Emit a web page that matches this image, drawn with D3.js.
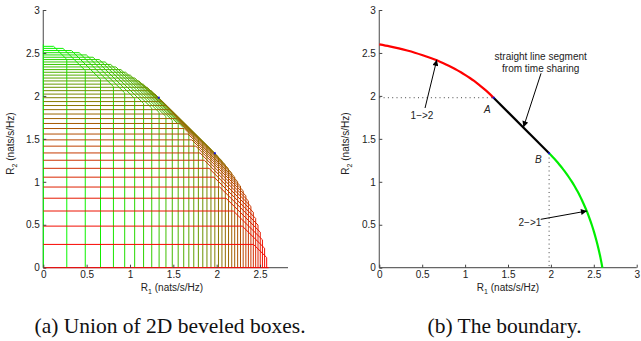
<!DOCTYPE html>
<html>
<head>
<meta charset="utf-8">
<script src="https://cdn.jsdelivr.net/npm/d3@7/dist/d3.min.js"></script>
<style>
  body { margin: 0; background: #fff; }
  svg { display: block; }
  .tick text { font-family: "Liberation Sans", Arial, sans-serif; font-size: 10px; fill: #222; }
  .lbl { font-family: "Liberation Sans", Arial, sans-serif; font-size: 10px; fill: #222; }
  .cap { font-family: "Liberation Serif", "Times New Roman", serif; font-size: 21.5px; fill: #111; }
</style>
</head>
<body>
<div id="chart"></div>
<script>
// ticks
const ticksLeftX = [0, 0.5, 1, 1.5, 2, 2.5];
const ticksY = [0, 0.5, 1, 1.5, 2, 2.5, 3];
const ticksRightX = [0, 0.5, 1, 1.5, 2, 2.5, 3];

// beveled boxes: R1 limit, R2 limit, sum-rate limit (green -> red)
const boxR1 = [0, 0.271, 0.484, 0.660, 0.809, 0.939, 1.054, 1.157, 1.251, 1.336, 1.415,
  1.488, 1.556, 1.620, 1.679, 1.736, 1.789, 1.840, 1.888, 1.934, 1.979,
  2.021, 2.061, 2.100, 2.137, 2.174, 2.208, 2.242, 2.275, 2.306, 2.337,
  2.366, 2.395, 2.423, 2.450, 2.477, 2.503, 2.528, 2.553, 2.577, 2.600];
const boxR2 = [2.600, 2.577, 2.553, 2.528, 2.503, 2.477, 2.450, 2.423, 2.395, 2.366, 2.337,
  2.306, 2.275, 2.242, 2.208, 2.174, 2.137, 2.100, 2.061, 2.021, 1.979,
  1.934, 1.888, 1.840, 1.789, 1.736, 1.679, 1.620, 1.556, 1.488, 1.415,
  1.336, 1.251, 1.157, 1.054, 0.939, 0.809, 0.660, 0.484, 0.271, 0];
const boxSum = [2.600, 2.696, 2.780, 2.853, 2.917, 2.974, 3.024, 3.069, 3.109, 3.144, 3.175,
  3.202, 3.226, 3.246, 3.264, 3.278, 3.290, 3.299, 3.306, 3.310, 3.311,
  3.310, 3.306, 3.299, 3.290, 3.278, 3.264, 3.246, 3.226, 3.202, 3.175,
  3.144, 3.109, 3.069, 3.024, 2.974, 2.917, 2.853, 2.780, 2.696, 2.600];

// boundary pieces
const redR1 = [0, 0.120, 0.227, 0.325, 0.414, 0.497, 0.574, 0.646, 0.713, 0.777, 0.838,
  0.896, 0.951, 1.004, 1.056, 1.105, 1.153, 1.199, 1.245, 1.289, 1.332];
const redR2 = [2.600, 2.577, 2.553, 2.528, 2.503, 2.477, 2.450, 2.423, 2.395, 2.366, 2.337,
  2.306, 2.275, 2.242, 2.208, 2.174, 2.137, 2.100, 2.061, 2.021, 1.979];
const greenR1 = [1.979, 2.021, 2.061, 2.100, 2.137, 2.174, 2.208, 2.242, 2.275, 2.306, 2.337,
  2.366, 2.395, 2.423, 2.450, 2.477, 2.503, 2.528, 2.553, 2.577, 2.600];
const greenR2 = [1.332, 1.289, 1.245, 1.199, 1.153, 1.105, 1.056, 1.004, 0.951, 0.896, 0.838,
  0.777, 0.713, 0.646, 0.574, 0.497, 0.414, 0.325, 0.227, 0.120, 0];
const cornerA = [1.332, 1.979];
const cornerB = [1.979, 1.332];

const W = 641, H = 341;
const svg = d3.select("#chart").append("svg").attr("width", W).attr("height", H);

svg.append("defs").append("marker")
  .attr("id", "arr").attr("viewBox", "0 0 10 10").attr("refX", 10).attr("refY", 5)
  .attr("markerWidth", 9).attr("markerHeight", 6).attr("markerUnits", "userSpaceOnUse")
  .attr("orient", "auto")
  .append("path").attr("d", "M0,0L10,5L0,10z").attr("fill", "#000");

const yL = d3.scaleLinear().domain([0, 3]).range([267.7, 10]);
const xL = d3.scaleLinear().domain([0, 2.823]).range([43.3, 288]);
const xR = d3.scaleLinear().domain([0, 3]).range([379.3, 636.7]);
const yR = yL;

function drawAxes(g, x, y) {
  g.append("line").attr("x1", x.range()[0]).attr("x2", x.range()[1])
    .attr("y1", y(0)).attr("y2", y(0)).attr("stroke", "#666").attr("stroke-width", 1.2);
  g.append("line").attr("x1", x(0)).attr("x2", x(0))
    .attr("y1", y.range()[0]).attr("y2", y.range()[1]).attr("stroke", "#666").attr("stroke-width", 1.2);
}
function drawTicks(g, x, y, xt) {
  const ax = g.append("g").attr("transform", `translate(0,${y(0)})`)
    .call(d3.axisBottom(x).tickValues(xt).tickFormat(d3.format("")).tickSizeInner(-3).tickSizeOuter(0).tickPadding(3.5));
  ax.select(".domain").remove();
  const ay = g.append("g").attr("transform", `translate(${x(0)},0)`)
    .call(d3.axisLeft(y).tickValues(ticksY).tickFormat(d3.format("")).tickSizeInner(-3).tickSizeOuter(0).tickPadding(3.5));
  ay.select(".domain").remove();
  g.selectAll(".tick line").attr("stroke", "#444");
}
function axisLabels(g, cx, cy, ylx) {
  const t = g.append("text").attr("class", "lbl").attr("x", cx).attr("y", 291).attr("text-anchor", "middle");
  t.append("tspan").text("R");
  t.append("tspan").attr("font-size", "7px").attr("dy", 3).text("1");
  t.append("tspan").attr("dy", -3).text(" (nats/s/Hz)");
  const u = g.append("text").attr("class", "lbl")
    .attr("transform", `translate(${ylx},${cy}) rotate(-90)`).attr("text-anchor", "middle");
  u.append("tspan").text("R");
  u.append("tspan").attr("font-size", "7px").attr("dy", 3).text("2");
  u.append("tspan").attr("dy", -3).text(" (nats/s/Hz)");
}

// ---------- (a) union of beveled boxes ----------
const gL = svg.append("g");
drawAxes(gL, xL, yL);
const n = boxR1.length;
const boxLine = d3.line().x(d => xL(d[0])).y(d => yL(d[1]));
boxR1.forEach((a, k) => {
  const b = boxR2[k], s = boxSum[k];
  const t = k / (n - 1);
  const pts = [[0, b], [s - b, b], [a, s - a], [a, 0]];
  gL.append("path").attr("d", boxLine(pts)).attr("fill", "none")
    .attr("stroke", d3.rgb(255 * t, 255 * (1 - t), 0)).attr("stroke-width", 1);
});
[cornerA, cornerB].forEach(p => {
  gL.append("rect").attr("x", xL(p[0]) - 1).attr("y", yL(p[1]) - 1).attr("width", 2).attr("height", 2).attr("fill", "#1010e0");
});
drawTicks(gL, xL, yL, ticksLeftX);
axisLabels(gL, 172, 143.5, 14);

// ---------- (b) the boundary ----------
const gR = svg.append("g");
drawAxes(gR, xR, yR);
// dotted guides
gR.append("line").attr("x1", xR(0)).attr("x2", xR(cornerA[0])).attr("y1", yR(cornerA[1])).attr("y2", yR(cornerA[1]))
  .attr("stroke", "#444").attr("stroke-dasharray", "1,3.3");
gR.append("line").attr("x1", xR(cornerB[0])).attr("x2", xR(cornerB[0])).attr("y1", yR(cornerB[1])).attr("y2", yR(0))
  .attr("stroke", "#444").attr("stroke-dasharray", "1,3.3");

const curve = d3.line().x(d => xR(d[0])).y(d => yR(d[1])).curve(d3.curveCatmullRom);
gR.append("path").attr("d", curve(redR1.map((v, i) => [v, redR2[i]])))
  .attr("fill", "none").attr("stroke", "#ff0000").attr("stroke-width", 2.2);
gR.append("path").attr("d", curve(greenR1.map((v, i) => [v, greenR2[i]])))
  .attr("fill", "none").attr("stroke", "#00ee00").attr("stroke-width", 2.2);
gR.append("line").attr("x1", xR(cornerA[0])).attr("y1", yR(cornerA[1]))
  .attr("x2", xR(cornerB[0])).attr("y2", yR(cornerB[1])).attr("stroke", "#000").attr("stroke-width", 2.2);
[cornerA, cornerB].forEach(p => {
  gR.append("rect").attr("x", xR(p[0]) - 1).attr("y", yR(p[1]) - 1).attr("width", 2).attr("height", 2).attr("fill", "#1010e0");
});
drawTicks(gR, xR, yR, ticksRightX);
axisLabels(gR, 508, 143.5, 348.5);

// annotations
function arrow(from, to) {
  gR.append("line").attr("x1", xR(from[0])).attr("y1", yR(from[1]))
    .attr("x2", xR(to[0])).attr("y2", yR(to[1]))
    .attr("stroke", "#000").attr("stroke-width", 1).attr("marker-end", "url(#arr)");
}
arrow([0.533, 1.859], [0.67, 2.42]);
arrow([1.885, 2.263], [1.68, 1.635]);
arrow([1.881, 0.563], [2.42, 0.66]);

function note(txt, x, y, italic) {
  gR.append("text").attr("class", "lbl").attr("x", xR(x)).attr("y", yR(y)).attr("dy", "0.35em")
    .attr("text-anchor", "middle").attr("font-style", italic ? "italic" : null).text(txt);
}
note("1\u2212>2", 0.498, 1.77);
note("straight line segment", 1.881, 2.456);
note("from time sharing", 1.881, 2.321);
note("2\u2212>1", 1.756, 0.528);
note("A", 1.259, 1.836, true);
note("B", 1.853, 1.262, true);

// captions
svg.append("text").attr("class", "cap").attr("x", 170).attr("y", 333).attr("text-anchor", "middle")
  .text("(a) Union of 2D beveled boxes.");
svg.append("text").attr("class", "cap").attr("x", 504.5).attr("y", 333).attr("text-anchor", "middle")
  .text("(b) The boundary.");
</script>
</body>
</html>
